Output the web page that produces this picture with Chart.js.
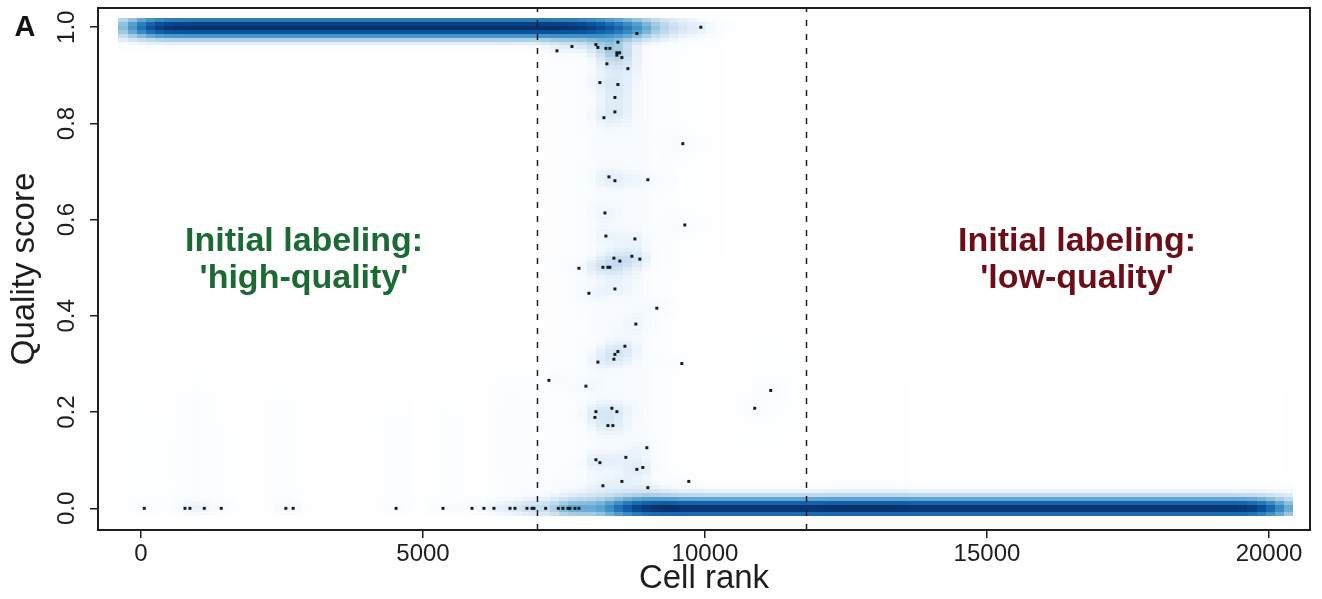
<!DOCTYPE html>
<html>
<head>
<meta charset="utf-8">
<script src="https://cdn.jsdelivr.net/npm/chart.js@4.4.0/dist/chart.umd.min.js"></script>
<style>
  html, body { margin: 0; padding: 0; background: #fff; }
  #wrap { width: 1322px; height: 599px; }
</style>
</head>
<body>
<div id="wrap"><canvas id="main-chart" width="1322" height="599"></canvas></div>
<script>
// tick labels
const xTicks = [0, 5000, 10000, 15000, 20000];
const yTicks = [0, 0.2, 0.4, 0.6, 0.8, 1.0];

// dashed cutoffs (cell rank)
const cutoffRanks = [7030, 11800];

// low-density cells drawn as dots
const outlierRank = [
    9926, 8792, 8456, 7375, 7641, 8066, 8101, 8243, 8314, 8438, 8485, 8438, 8527, 8261, 8633,
    8137, 8456, 8403, 8403, 8208, 9607, 8297, 8403, 8987, 8226, 9642, 8243, 8757, 8385, 8491,
    8704, 8845, 7765, 8190, 8279, 8314, 8403, 7942, 9146, 8774, 8580, 8456, 8403, 8101, 8385,
    9589, 7233, 7889, 11166, 10882, 8066, 8349, 8438, 8048, 8279, 8367, 8969, 8066, 8137, 8597,
    8898, 8792, 8190, 8527, 8987, 9713
];
const outlierScore = [
    1.0, 0.987, 0.969, 0.951, 0.960, 0.964, 0.958, 0.956, 0.956, 0.947, 0.947, 0.942, 0.937, 0.924, 0.914,
    0.885, 0.881, 0.854, 0.824, 0.812, 0.758, 0.689, 0.681, 0.683, 0.614, 0.589, 0.566, 0.560, 0.520, 0.514,
    0.524, 0.518, 0.499, 0.501, 0.501, 0.501, 0.456, 0.447, 0.416, 0.383, 0.337, 0.326, 0.320, 0.304, 0.310,
    0.301, 0.266, 0.254, 0.245, 0.208, 0.201, 0.208, 0.201, 0.189, 0.172, 0.172, 0.126, 0.101, 0.095, 0.106,
    0.085, 0.081, 0.047, 0.056, 0.043, 0.056
];
// dots sitting on score 0 inside the high-quality range
const zeroRank = [
    58, 780, 868, 1122, 1423, 2569, 2698, 4523, 5355, 5869, 6081, 6258,
    6543, 6631, 6844, 6933, 6968, 7175, 7399, 7481, 7570, 7605, 7694, 7765
];

// dense runs of cells (rank range and score)
const bandFrom = [95, 8650];
const bandTo = [8293, 20000];
const bandScore = [1, 0];

// faint density patches: rank range, score range, strength
const hazeFrom  = [7200, 7900, 8200, 8350, 9300, 10600, 12100, 20300, -440, 300, 710, 1190, 2170, 3000, 4150, 5100, 6200, 6900];
const hazeTo    = [9500, 9000, 8700, 8850, 10300, 11600, 13600, 20450, 210, 700, 1190, 1650, 2820, 4000, 4780, 5750, 7000, 8000];
const hazeLow   = [0.0, 0.02, 0.8, 0.485, 0.5, 0.1, 0.0, 0.0, 0, 0, 0, 0, 0, 0, 0, 0, 0, 0];
const hazeHigh  = [0.97, 0.95, 0.97, 0.515, 0.97, 0.38, 0.3, 0.25, 0.24, 0.2, 0.26, 0.22, 0.24, 0.15, 0.22, 0.22, 0.28, 0.06];
const hazeLevel = [0.05, 0.05, 0.06, 0.12, 0.03, 0.035, 0.02, 0.06, 0.04, 0.03, 0.07, 0.04, 0.06, 0.015, 0.05, 0.05, 0.07, 0.07];

const FONT = "'Liberation Sans', Arial, Helvetica, sans-serif";
const INK = "#1e1e1e";

// smoothScatter-like ramp: white then blues9
const ramp = ["#FFFFFF", "#F7FBFF", "#DEEBF7", "#C6DBEF", "#9ECAE1", "#6BAED6", "#4292C6", "#2171B5", "#08519C", "#08306B"];
const rampRgb = ramp.map(h => [1, 3, 5].map(i => parseInt(h.substr(i, 2), 16)));

function rampColor(v) {
    const t = Math.max(0, Math.min(1, v)) * (ramp.length - 1);
    const i = Math.min(ramp.length - 2, Math.floor(t));
    const f = t - i;
    const a = rampRgb[i], b = rampRgb[i + 1];
    return "rgb(" + a.map((c, k) => Math.round(c + (b[k] - c) * f)).join(",") + ")";
}

function erf(z) {
    const s = z < 0 ? -1 : 1;
    z = Math.abs(z);
    const t = 1 / (1 + 0.3275911 * z);
    const y = 1 - (((((1.061405429 * t - 1.453152027) * t) + 1.421413741) * t - 0.284496736) * t + 0.254829592) * t * Math.exp(-z * z);
    return s * y;
}
function phi(z) { return 0.5 * (1 + erf(z / Math.SQRT2)); }

// blur widths of the density image
const bandEdge = [[270, 470], [372, 270]];
const BAND_SD = 0.0095;

function densityAt(x, y) {
    let d = 0;
    for (let i = 0; i < bandFrom.length; i++) {
        const fx = phi((x - bandFrom[i]) / bandEdge[i][0]) * (1 - phi((x - bandTo[i]) / bandEdge[i][1]));
        const dy = y - bandScore[i];
        d += fx * Math.exp(-dy * dy / (2 * BAND_SD * BAND_SD));
    }
    let v = Math.pow(Math.min(d, 1), 0.25);
    let h = 0;
    for (let i = 0; i < hazeFrom.length; i++) {
        h += hazeLevel[i] * (phi((x - hazeFrom[i]) / 120) - phi((x - hazeTo[i]) / 120)) *
            (phi((y - hazeLow[i]) / 0.03) - phi((y - hazeHigh[i]) / 0.03));
    }
    const addDot = (r, s) => {
        const a = (x - r) / 220, b = (y - s) / 0.014;
        h += 0.055 * Math.exp(-(a * a + b * b) / 2);
    };
    outlierRank.forEach((r, i) => addDot(r, outlierScore[i]));
    zeroRank.forEach(r => addDot(r, 0));
    return Math.min(1, v + h);
}

// grid of the density image
const GRID_X = [-400, 20430];
const GRID_Y = [-0.0167, 1.0188];
const NBIN = 128;

const densityPlugin = {
    id: "density",
    beforeDatasetsDraw(chart) {
        const { ctx, chartArea, scales: { x, y } } = chart;
        ctx.save();
        ctx.beginPath();
        ctx.rect(chartArea.left, chartArea.top, chartArea.width, chartArea.height);
        ctx.clip();
        const cw = (GRID_X[1] - GRID_X[0]) / NBIN;
        const ch = (GRID_Y[1] - GRID_Y[0]) / NBIN;
        for (let k = 0; k < NBIN; k++) {
            const xl = GRID_X[0] + k * cw;
            const px0 = Math.round(x.getPixelForValue(xl));
            const px1 = Math.round(x.getPixelForValue(xl + cw));
            for (let j = 0; j < NBIN; j++) {
                const yl = GRID_Y[0] + j * ch;
                const v = densityAt(xl + cw / 2, yl + ch / 2);
                if (v < 0.012) continue;
                const py0 = Math.round(y.getPixelForValue(yl + ch));
                const py1 = Math.round(y.getPixelForValue(yl));
                ctx.fillStyle = rampColor(v);
                ctx.fillRect(px0, py0, px1 - px0, py1 - py0);
            }
        }
        ctx.restore();
    },
    afterDatasetsDraw(chart) {
        const { ctx, chartArea, scales: { x, y } } = chart;
        ctx.save();
        // box around the plot
        ctx.strokeStyle = INK;
        ctx.lineWidth = 2;
        ctx.strokeRect(chartArea.left, chartArea.top, chartArea.width, chartArea.height);

        ctx.font = "bold 34px " + FONT;
        ctx.textAlign = "center";
        ctx.textBaseline = "alphabetic";
        ctx.fillStyle = "#1b6a34";
        ctx.fillText("Initial labeling:", x.getPixelForValue(2890), y.getPixelForValue(0.5355));
        ctx.fillText("'high-quality'", x.getPixelForValue(2890), y.getPixelForValue(0.4585));
        ctx.fillStyle = "#6b0e17";
        ctx.fillText("Initial labeling:", x.getPixelForValue(16596), y.getPixelForValue(0.5355));
        ctx.fillText("'low-quality'", x.getPixelForValue(16596), y.getPixelForValue(0.4570));

        ctx.fillStyle = "#111";
        ctx.font = "bold 29px " + FONT;
        ctx.fillText("A", 25, 36);
        ctx.restore();
    }
};

const dotData = outlierRank.map((r, i) => ({ x: r, y: outlierScore[i] }));
zeroRank.forEach(r => dotData.push({ x: r, y: 0 }));

const cutoffSets = cutoffRanks.map(r => ({
    type: "line",
    data: [{ x: r, y: -0.045 }, { x: r, y: 1.04 }],
    borderColor: INK,
    borderWidth: 1.5,
    borderDash: [6, 8],
    pointRadius: 0,
    showLine: true,
    fill: false,
    order: 2
}));

const canvas = document.getElementById("main-chart");
const chart = new Chart(canvas, {
    type: "scatter",
    data: {
        datasets: [
            {
                label: "cells",
                data: dotData,
                pointStyle: "rect",
                pointRadius: 2.1,
                pointBorderWidth: 0,
                backgroundColor: "#1a1a1a",
                borderColor: "#1a1a1a",
                order: 1
            },
            ...cutoffSets
        ]
    },
    options: {
        responsive: false,
        animation: false,
        events: [],
        layout: { padding: { left: 0, right: 12, top: 8, bottom: 0 } },
        plugins: {
            legend: { display: false },
            tooltip: { enabled: false },
            title: { display: false }
        },
        scales: {
            x: {
                type: "linear",
                min: -762,
                max: 20727,
                afterBuildTicks: s => { s.ticks = xTicks.map(v => ({ value: v })); },
                afterFit: s => { s.height = 69; s.paddingLeft = 0; s.paddingRight = 0; },
                ticks: {
                    color: INK,
                    font: { family: FONT, size: 24 },
                    padding: 2,
                    maxRotation: 0,
                    callback: v => String(v)
                },
                grid: { drawOnChartArea: false, tickLength: 8, color: INK, lineWidth: 1.5 },
                border: { display: true, color: INK, width: 2 },
                title: {
                    display: true,
                    text: "Cell rank",
                    color: INK,
                    font: { family: FONT, size: 33, lineHeight: 1 },
                    padding: { top: 0, bottom: 4 }
                }
            },
            y: {
                type: "linear",
                min: -0.045,
                max: 1.04,
                afterBuildTicks: s => { s.ticks = yTicks.map(v => ({ value: v })); },
                afterFit: s => { s.width = 98; s.paddingTop = 0; s.paddingBottom = 0; },
                ticks: {
                    color: INK,
                    font: { family: FONT, size: 24 },
                    padding: 6,
                    minRotation: 90,
                    maxRotation: 90,
                    crossAlign: "center",
                    callback: v => Number(v).toFixed(1)
                },
                grid: { drawOnChartArea: false, tickLength: 8, color: INK, lineWidth: 1.5 },
                border: { display: true, color: INK, width: 2 },
                title: {
                    display: true,
                    text: "Quality score",
                    color: INK,
                    font: { family: FONT, size: 33, lineHeight: 1 },
                    padding: { top: 8, bottom: 0 }
                }
            }
        }
    },
    plugins: [densityPlugin]
});
</script>
</body>
</html>
